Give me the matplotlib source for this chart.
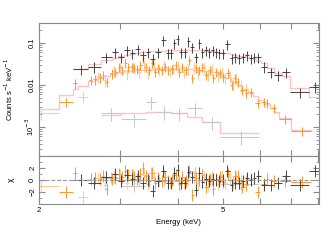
import numpy as np
import matplotlib.pyplot as plt
from matplotlib.ticker import FixedLocator, FixedFormatter, NullLocator, LogLocator

plt.rcParams['font.family'] = ['Liberation Sans', 'DejaVu Sans']

# black spectrum (contiguous bins)
black_edges = [2.37, 2.55, 2.72, 2.87, 2.97, 3.06, 3.14, 3.22, 3.31, 3.40, 3.48, 3.57,
               3.67, 3.76, 3.82, 3.89, 3.95, 4.02, 4.10, 4.17, 4.23, 4.32, 4.40, 4.47,
               4.55, 4.63, 4.70, 4.78, 4.87, 4.94, 5.04, 5.16, 5.26, 5.36, 5.47, 5.58,
               5.69, 5.79, 5.88, 6.02, 6.22, 6.44, 6.68, 6.98, 7.66, 8.10]
black_rate = [0.024, 0.027, 0.046, 0.061, 0.046, 0.068, 0.058, 0.072, 0.052, 0.061,
              0.042, 0.061, 0.118, 0.058, 0.058, 0.100, 0.125, 0.061, 0.061, 0.112,
              0.080, 0.046, 0.100, 0.061, 0.068, 0.061, 0.068, 0.061, 0.058, 0.058,
              0.095, 0.044, 0.046, 0.044, 0.046, 0.052, 0.044, 0.046, 0.046, 0.027,
              0.020, 0.017, 0.020, 0.0068, 0.0090]
black_model = [0.024, 0.031, 0.040, 0.045, 0.049, 0.052, 0.055, 0.058, 0.060, 0.062,
               0.064, 0.065, 0.066, 0.067, 0.067, 0.068, 0.068, 0.069, 0.069, 0.069,
               0.069, 0.068, 0.068, 0.067, 0.066, 0.065, 0.064, 0.062, 0.061, 0.059,
               0.057, 0.054, 0.052, 0.050, 0.048, 0.046, 0.043, 0.041, 0.038, 0.033,
               0.025, 0.019, 0.016, 0.0085, 0.0052]
black_relerr = 0.28

# orange spectrum
orange_e = [2.29, 2.39, 2.59, 2.64, 2.71, 2.75, 2.80, 2.87, 2.92, 2.98,
            3.03, 3.07, 3.12, 3.17, 3.21, 3.26, 3.31, 3.355, 3.40, 3.46,
            3.51, 3.57, 3.62, 3.69, 3.75, 3.80, 3.87, 3.95, 4.02, 4.08,
            4.15, 4.22, 4.29, 4.37, 4.44, 4.51, 4.59, 4.67, 4.76, 4.83,
            4.92, 5.00, 5.11, 5.21, 5.29, 5.37, 5.50, 5.61, 5.75, 5.93,
            6.11, 6.23, 6.42, 6.81, 7.38]
orange_hw = [0.08, 0.025, 0.02, 0.02, 0.02, 0.02, 0.02, 0.022, 0.022, 0.022,
             0.022, 0.022, 0.022, 0.022, 0.022, 0.025, 0.022, 0.02, 0.025, 0.025,
             0.025, 0.025, 0.025, 0.03, 0.025, 0.025, 0.03, 0.03, 0.03, 0.03,
             0.03, 0.03, 0.03, 0.03, 0.03, 0.03, 0.035, 0.035, 0.035, 0.035,
             0.04, 0.04, 0.05, 0.05, 0.04, 0.04, 0.06, 0.05, 0.06, 0.07,
             0.07, 0.06, 0.08, 0.2, 0.37]
orange_rate = [0.0039, 0.011, 0.0132, 0.0137, 0.0153, 0.0173, 0.0120, 0.0190, 0.0207, 0.0273,
               0.0228, 0.034, 0.0273, 0.0273, 0.026, 0.024, 0.030, 0.045, 0.027, 0.0228,
               0.0334, 0.0207, 0.0254, 0.0228, 0.0273, 0.0228, 0.024, 0.030, 0.0207, 0.0273,
               0.0228, 0.0394, 0.0147, 0.0254, 0.0228, 0.0273, 0.0173, 0.0228, 0.0147, 0.0207,
               0.0193, 0.0158, 0.0193, 0.010, 0.0147, 0.0118, 0.0076, 0.0066, 0.0068, 0.0037,
               0.0039, 0.0037, 0.0028, 0.00155, 0.0008]
orange_relerr = 0.25

# light orange spectrum (second detector)
lorange_e = [2.02, 2.49, 2.68, 2.78, 2.90, 3.00, 3.10, 3.19, 3.29, 3.37,
             3.44, 3.54, 3.64, 3.72, 3.83, 3.90, 4.00, 4.11, 4.19, 4.33,
             4.40, 4.55, 4.63, 4.72, 4.87, 4.96, 5.05, 5.16, 5.25, 5.33,
             5.45, 5.60]
lorange_hw = [0.185, 0.06, 0.03, 0.03, 0.03, 0.03, 0.03, 0.03, 0.03, 0.03,
              0.03, 0.03, 0.03, 0.03, 0.03, 0.03, 0.03, 0.035, 0.035, 0.035,
              0.035, 0.035, 0.035, 0.035, 0.035, 0.035, 0.035, 0.04, 0.04, 0.04,
              0.04, 0.04]
lorange_rate = [0.0021, 0.0052, 0.016, 0.013, 0.022, 0.026, 0.019, 0.028, 0.021, 0.030,
                0.020, 0.027, 0.024, 0.031, 0.022, 0.026, 0.029, 0.021, 0.025, 0.027,
                0.020, 0.026, 0.018, 0.024, 0.017, 0.021, 0.015, 0.017, 0.011, 0.014,
                0.0095, 0.0080]
lorange_relerr = 0.3

# model for the orange spectra
omodel_edges = [1.84, 2.21, 2.37, 2.43, 2.55, 2.65, 2.75, 2.85, 2.95, 3.05,
                3.20, 3.40, 3.70, 4.00, 4.30, 4.50, 4.70, 4.90, 5.05, 5.20,
                5.35, 5.50, 5.65, 5.80, 5.95, 6.12, 6.30, 6.45, 6.61, 7.02, 7.76]
omodel_vals = [0.0027, 0.0058, 0.0080, 0.0095, 0.0125, 0.0145, 0.0165, 0.0185, 0.020, 0.0215,
               0.0225, 0.0235, 0.024, 0.024, 0.023, 0.022, 0.020, 0.017, 0.0145, 0.012,
               0.0098, 0.0080, 0.0066, 0.0055, 0.0045, 0.0036, 0.0029, 0.0023, 0.00164, 0.00085]

# faint gray spectrum
gray_edges = [2.72, 3.01, 3.41, 3.58, 3.86, 4.18, 4.51, 4.93, 5.97]
gray_rate = [0.00215, 0.00154, 0.0039, 0.0023, 0.0021, 0.0028, 0.0013, 0.00058]
gray_model = [0.0019, 0.0021, 0.0023, 0.0023, 0.0022, 0.0017, 0.0013, 0.00072]
gray_relerr = 0.35

c_black = '#3a3a3a'
c_orange = '#ff9a33'
c_lorange = '#ffc58c'
c_gray = '#c8c8c8'
c_model = '#ff9c9c'
c_frame = '#8a8a8a'


def lookup(edges, vals, e):
    idx = np.searchsorted(edges, e) - 1
    idx = np.clip(idx, 0, len(vals) - 1)
    return np.asarray(vals)[idx]


fig = plt.figure(figsize=(3.3, 2.48), dpi=100)
ax = fig.add_axes([0.118, 0.371, 0.848, 0.536])
axr = fig.add_axes([0.118, 0.177, 0.848, 0.194], sharex=ax)

be = np.array(black_edges)
bc = 0.5 * (be[:-1] + be[1:])
bhw = 0.5 * (be[1:] - be[:-1])
br = np.array(black_rate)
ge = np.array(gray_edges)
gc = 0.5 * (ge[:-1] + ge[1:])
ghw = 0.5 * (ge[1:] - ge[:-1])
gr = np.array(gray_rate)
oe, orr = np.array(orange_e), np.array(orange_rate)
le, lr = np.array(lorange_e), np.array(lorange_rate)

sets = [
    (gc, ghw, gr, gray_relerr, np.array(gray_model), c_gray, 1.0),
    (le, lorange_hw, lr, lorange_relerr, lookup(omodel_edges, omodel_vals, le), c_lorange, 0.9),
    (oe, orange_hw, orr, orange_relerr, lookup(omodel_edges, omodel_vals, oe), c_orange, 1.0),
    (bc, bhw, br, black_relerr, np.array(black_model), c_black, 0.9),
]

for x, hw, y, rel, m, col, al in sets:
    ax.errorbar(x, y, xerr=hw, yerr=rel * y, fmt='none', ecolor=col,
                elinewidth=0.75, alpha=al, capsize=0)
    chi = (y - m) / (rel * y)
    axr.errorbar(x, chi, xerr=hw, yerr=1.0, fmt='none', ecolor=col,
                 elinewidth=0.75, alpha=al, capsize=0)

for vals, edges in [(gray_model, gray_edges), (omodel_vals, omodel_edges),
                    (black_model, black_edges)]:
    ax.stairs(vals, edges, baseline=None, color=c_model, lw=1.0, alpha=0.6)

ax.set_xscale('log')
ax.set_yscale('log')
ax.set_xlim(2.0, 8.04)
ax.set_ylim(2.04e-4, 0.3)
axr.set_ylim(-4, 4)
axr.axhline(0, color='#999999', lw=0.8, ls='--')

for a in (ax, axr):
    for s in a.spines.values():
        s.set_color(c_frame)
        s.set_linewidth(0.8)
    a.tick_params(which='both', direction='in', top=True, right=True,
                  color=c_frame, labelsize=5.5, pad=2)
    a.tick_params(which='major', length=4)
    a.tick_params(which='minor', length=2)
    a.xaxis.set_major_locator(FixedLocator([2, 3, 4, 5, 6, 7, 8]))
    a.xaxis.set_minor_locator(NullLocator())

ax.tick_params(labelbottom=False)
axr.xaxis.set_major_formatter(FixedFormatter(['2', '', '', '5', '', '', '']))

ax.yaxis.set_major_locator(FixedLocator([1e-3, 1e-2, 0.1]))
ax.yaxis.set_major_formatter(FixedFormatter(['10$^{-3}$', '0.01', '0.1']))
ax.yaxis.set_minor_locator(LogLocator(subs=np.arange(2, 10)))
axr.set_yticks([-2, 0, 2])
axr.yaxis.set_minor_locator(FixedLocator([-3, -1, 1, 3]))
for lab in ax.get_yticklabels() + axr.get_yticklabels():
    lab.set_rotation(90)
    lab.set_va('center')

ax.set_ylabel('Counts s$^{-1}$ keV$^{-1}$', fontsize=5.5)
axr.set_ylabel('χ', fontsize=6)
ax.yaxis.set_label_coords(-0.085, 0.5)
axr.yaxis.set_label_coords(-0.085, 0.5)
axr.set_xlabel('Energy (keV)', fontsize=5.5, labelpad=4)

fig.savefig('out.png', dpi=100)
